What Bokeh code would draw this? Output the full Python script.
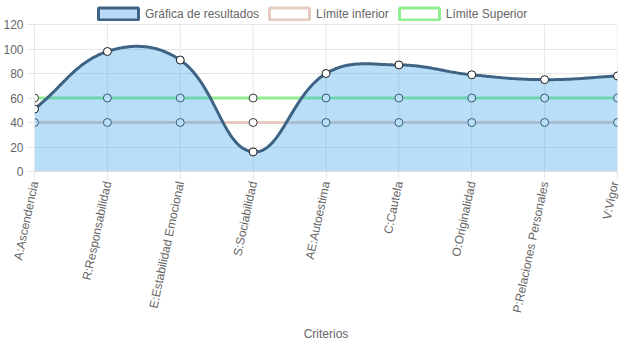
import numpy as np
from bokeh.plotting import figure
from bokeh.models import Range1d, FixedTicker, Legend, LegendItem, Span
from bokeh.embed import file_html
from bokeh.resources import INLINE

# ---------------- data ----------------
categories = ["A:Ascendencia", "R:Responsabilidad", "E:Estabilidad Emocional",
              "S:Sociabilidad", "AE:Autoestima", "C:Cautela", "O:Originalidad",
              "P:Relaciones Personales", "V:Vigor"]
resultados = [51, 98, 91, 16, 80, 87, 79, 75, 78]
limite_inferior = [40, 40, 40, 40, 40, 40, 40, 40, 40]
limite_superior = [60, 60, 60, 60, 60, 60, 60, 60, 60]
y_ticks = [0, 20, 40, 60, 80, 100, 120]

FONT = "Liberation Sans"
GRAY = "#666666"
GRID = "#e6e6e6"
FILL = "#36a2eb"
LINE = "#3e6384"
LOW = "#e6cbc0"
UP = "#90ee90"

W, H = 621, 343
Y_MAX = 120
Y_VIEW = 138          # extra head-room inside the frame for the legend
PX_PER_UNIT = 147 / 120.0
x = list(range(len(categories)))

p = figure(width=W, height=H, output_backend="svg", toolbar_location=None,
           x_range=Range1d(0, len(categories) - 1), y_range=Range1d(0, Y_VIEW),
           min_border_left=28, min_border_right=4, min_border_top=2,
           min_border_bottom=100)
p.outline_line_color = None
p.background_fill_color = "white"

# axes
p.xaxis.ticker = FixedTicker(ticks=x)
p.xaxis.major_label_overrides = {i: c for i, c in enumerate(categories)}
p.xaxis.major_label_orientation = np.deg2rad(78)
p.yaxis.ticker = FixedTicker(ticks=y_ticks)
p.yaxis.bounds = (0, Y_MAX)
for ax in (p.xaxis, p.yaxis):
    ax.major_label_text_font = FONT
    ax.major_label_text_font_size = "12px"
    ax.major_label_text_color = GRAY
    ax.axis_line_color = GRID
    ax.major_tick_line_color = GRID
    ax.major_tick_in = 0
    ax.major_tick_out = 8
    ax.minor_tick_line_color = None
p.yaxis.major_label_standoff = 3
p.xaxis.major_label_standoff = 2
p.xaxis.axis_label = "Criterios"
p.xaxis.axis_label_text_font = FONT
p.xaxis.axis_label_text_font_size = "12px"
p.xaxis.axis_label_text_font_style = "normal"
p.xaxis.axis_label_text_color = GRAY
p.xaxis.axis_label_standoff = 8

# grid: horizontal via Grid, vertical lines limited to 0..120 via segments
p.xgrid.grid_line_color = None
p.ygrid.ticker = FixedTicker(ticks=y_ticks)
p.ygrid.grid_line_color = GRID
p.segment(x0=x, y0=[0] * len(x), x1=x, y1=[Y_MAX] * len(x), line_color=GRID, line_width=1)
p.add_layout(Span(location=0, dimension="width", line_color="#d4d4d4", line_width=2))

# ---------------- Chart.js-like cubic spline (tension 0.4) ----------------
def spline(xs, ys, t=0.4, sx=72.6, sy=PX_PER_UNIT, n=40):
    px = np.array(xs, float) * sx
    py = np.array(ys, float) * sy
    m = len(px)
    prev_c, next_c = [], []
    for i in range(m):
        a = (px[i - 1], py[i - 1]) if i > 0 else (px[i], py[i])
        b = (px[i], py[i])
        c = (px[i + 1], py[i + 1]) if i < m - 1 else (px[i], py[i])
        d01 = np.hypot(b[0] - a[0], b[1] - a[1])
        d12 = np.hypot(c[0] - b[0], c[1] - b[1])
        s01 = d01 / (d01 + d12) if d01 + d12 else 0
        s12 = d12 / (d01 + d12) if d01 + d12 else 0
        fa, fb = t * s01, t * s12
        pc = (b[0] - fa * (c[0] - a[0]), b[1] - fa * (c[1] - a[1]))
        nc = (b[0] + fb * (c[0] - a[0]), b[1] + fb * (c[1] - a[1]))
        ymax = Y_MAX * sy
        pc = (pc[0], min(max(pc[1], 0), ymax))
        nc = (nc[0], min(max(nc[1], 0), ymax))
        prev_c.append(pc)
        next_c.append(nc)
    outx, outy = [], []
    tt = np.linspace(0, 1, n)
    for i in range(m - 1):
        P0 = np.array([px[i], py[i]])
        P1 = np.array(next_c[i])
        P2 = np.array(prev_c[i + 1])
        P3 = np.array([px[i + 1], py[i + 1]])
        seg = ((1 - tt) ** 3)[:, None] * P0 + (3 * (1 - tt) ** 2 * tt)[:, None] * P1 \
            + (3 * (1 - tt) * tt ** 2)[:, None] * P2 + (tt ** 3)[:, None] * P3
        if i > 0:
            seg = seg[1:]
        outx.extend(seg[:, 0] / sx)
        outy.extend(seg[:, 1] / sy)
    return np.array(outx), np.array(outy)

cx, cy = spline(x, resultados)

# limit series (drawn first, under the fill)
p.line(x, limite_superior, line_color=UP, line_width=3)
p.scatter(x, limite_superior, size=8, fill_color="white", line_color="#3a3a3a", line_width=1)
p.line(x, limite_inferior, line_color=LOW, line_width=3)
p.scatter(x, limite_inferior, size=8, fill_color="white", line_color="#3a3a3a", line_width=1)

# results
p.varea(x=cx, y1=np.zeros_like(cy), y2=cy, fill_color=FILL, fill_alpha=0.35)
p.line(cx, cy, line_color=LINE, line_width=3)
p.scatter(x, resultados, size=8, fill_color="white", line_color="#1a1a1a", line_width=1)

# legend swatches (hidden renderers, used only for the legend boxes)
r1 = p.rect(x=[0], y=[0], width=1, height=1, fill_color="#b8daf7", line_color=LINE, line_width=3, visible=False)
r2 = p.rect(x=[0], y=[0], width=1, height=1, fill_color="white", line_color=LOW, line_width=3, visible=False)
r3 = p.rect(x=[0], y=[0], width=1, height=1, fill_color="white", line_color=UP, line_width=3, visible=False)
legend = Legend(items=[LegendItem(label="Gráfica de resultados", renderers=[r1]),
                       LegendItem(label="Límite inferior", renderers=[r2]),
                       LegendItem(label="Límite Superior", renderers=[r3])],
                orientation="horizontal", location=(59, 150),
                glyph_width=50, glyph_height=15, label_standoff=2, spacing=5,
                padding=0, margin=0, border_line_color=None,
                background_fill_alpha=0, inactive_fill_alpha=0,
                label_text_font=FONT,
                label_text_font_size="12px", label_text_color=GRAY,
                label_height=15)
p.add_layout(legend, "center")

open("out.html", "w").write(file_html(p, INLINE))
